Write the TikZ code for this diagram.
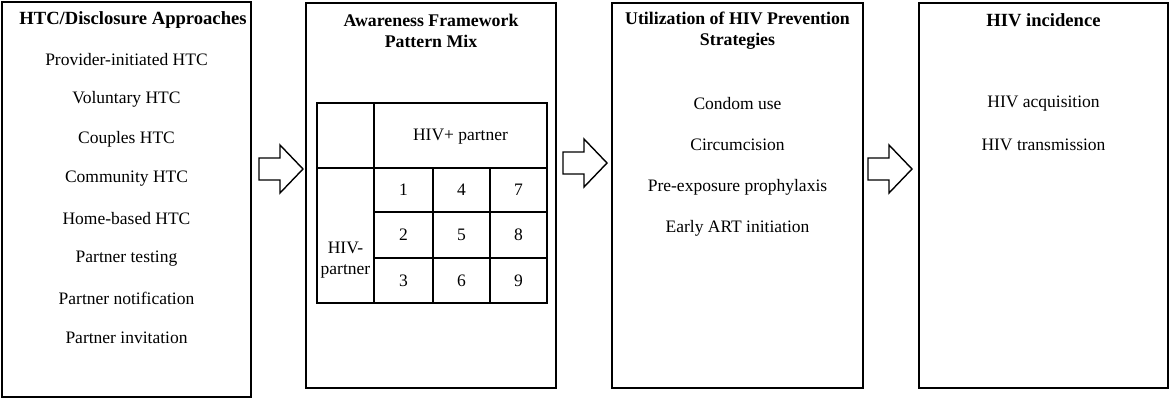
\documentclass[tikz,border=0pt]{standalone}
\usepackage{fontspec}
\setmainfont{Liberation Serif}
\begin{document}
\begin{tikzpicture}[x=1pt,y=-1pt,
  box/.style={draw, line width=1.8pt, inner sep=0pt},
  txt/.style={font=\fontsize{17.5}{21}\selectfont, inner sep=0pt, align=center},
  ttl/.style={font=\fontsize{17.8}{21}\selectfont\bfseries, inner sep=0pt, align=center},
  tline/.style={line width=1.4pt},
  arr/.style={draw, line width=1.4pt, fill=white, line join=miter}]
\useasboundingbox (0,0) rectangle (1170,400);
% boxes
\node (b1) [box, minimum width=249pt, minimum height=395pt] at (126.5,199.5) {};
\node (b2) [box, minimum width=250pt, minimum height=385pt] at (431,195.5) {};
\node (b3) [box, minimum width=251pt, minimum height=385pt] at (737.5,195.5) {};
\node (b4) [box, minimum width=249pt, minimum height=385pt] at (1043.5,195.5) {};
% box 1 texts
\node (t1) [ttl, font=\fontsize{18.6}{21}\selectfont\bfseries] at (133,20) {HTC/Disclosure Approaches};
\node (i11) [txt] at (126.5,60) {Provider-initiated HTC};
\node (i12) [txt] at (126.5,99.5) {Voluntary HTC};
\node (i13) [txt] at (126.5,139) {Couples HTC};
\node (i14) [txt] at (126.5,179) {Community HTC};
\node (i15) [txt] at (126.5,218.5) {Home-based HTC};
\node (i16) [txt] at (126.5,258.5) {Partner testing};
\node (i17) [txt] at (126.5,298) {Partner notification};
\node (i18) [txt] at (126.5,337.5) {Partner invitation};
% box 2
\node (t2) [ttl] at (431,31) {Awareness Framework\\Pattern Mix};
\coordinate (tl) at (317,103);
\coordinate (br) at (547,303);
\draw[tline] (tl) rectangle (br);
\draw[tline] (374,103) -- (374,303);
\draw[tline] (374,168) -- (547,168);
\draw[tline] (317,168) -- (374,168);
\draw[tline] (374,212) -- (547,212);
\draw[tline] (374,258) -- (547,258);
\draw[tline] (433,168) -- (433,303);
\draw[tline] (490,168) -- (490,303);
\node (hp) [txt] at (460.5,137) {HIV+ partner};
\node (hn) [txt] at (345.5,260) {HIV-\\partner};
\node (c1) [txt] at (403.5,190) {1};
\node (c2) [txt] at (403.5,235) {2};
\node (c3) [txt] at (403.5,280.5) {3};
\node (c4) [txt] at (461.5,190) {4};
\node (c5) [txt] at (461.5,235) {5};
\node (c6) [txt] at (461.5,280.5) {6};
\node (c7) [txt] at (518.5,190) {7};
\node (c8) [txt] at (518.5,235) {8};
\node (c9) [txt] at (518.5,280.5) {9};
% box 3
\node (t3) [ttl] at (737.5,31) {Utilization of HIV Prevention\\Strategies};
\node (i31) [txt] at (737.5,104) {Condom use};
\node (i32) [txt] at (737.5,145) {Circumcision};
\node (i33) [txt] at (737.5,187) {Pre-exposure prophylaxis};
\node (i34) [txt] at (737.5,228) {Early ART initiation};
% box 4
\node (t4) [ttl, font=\fontsize{18.6}{21}\selectfont\bfseries] at (1043.5,20) {HIV incidence};
\node (i41) [txt] at (1043.5,104) {HIV acquisition};
\node (i42) [txt] at (1043.5,145) {HIV transmission};
% arrows
\coordinate (a1) at (259,169);
\coordinate (a2) at (563,163);
\coordinate (a3) at (868,169);
\foreach \a in {a1,a2,a3}{
  \draw[arr, shift={(\a)}] (0,-11) -- (21,-11) -- (21,-24) -- (44,0) -- (21,24) -- (21,11) -- (0,11) -- cycle;
}
\end{tikzpicture}
\end{document}
